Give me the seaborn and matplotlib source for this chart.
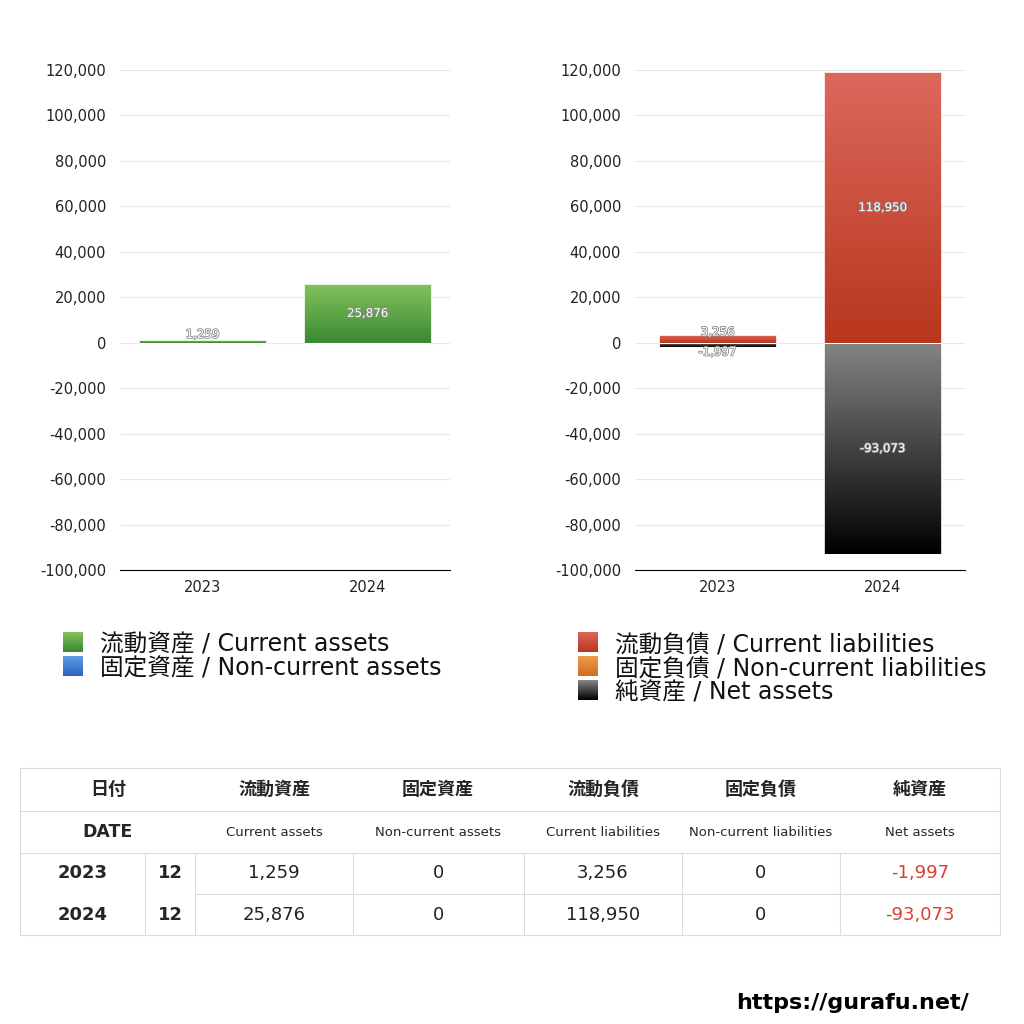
import numpy as np
import pandas as pd
import seaborn as sns
import matplotlib.pyplot as plt
import matplotlib.patheffects as pe
from matplotlib.colors import LinearSegmentedColormap
from matplotlib.ticker import FuncFormatter

years = ["2023", "2024"]
months = [12, 12]
current_assets = [1259, 25876]
noncurrent_assets = [0, 0]
current_liab = [3256, 118950]
noncurrent_liab = [0, 0]
net_assets = [-1997, -93073]

col_jp = ["流動資産", "固定資産", "流動負債", "固定負債", "純資産"]
col_en = ["Current assets", "Non-current assets", "Current liabilities",
          "Non-current liabilities", "Net assets"]

# gradient (top, bottom) per series
grad = {
    "green": ("#84c25c", "#3a8833"),
    "blue": ("#5e9ee9", "#2d62bf"),
    "red": ("#dc685c", "#b8361d"),
    "orange": ("#ee9c4c", "#cf6e1e"),
    "black": ("#858585", "#000000"),
}

sns.set_theme(style="white")
plt.rcParams["font.family"] = ["DejaVu Sans", "Noto Sans CJK JP"]

fig = plt.figure(figsize=(10.24, 10.24), dpi=100)
bg = fig.add_axes([0, 0, 1, 1])
bg.set_xlim(0, 1024)
bg.set_ylim(1024, 0)
bg.axis("off")


def cmap_of(key):
    top, bottom = grad[key]
    return LinearSegmentedColormap.from_list(key, [bottom, top])


def gradient_fill(ax, patches, key):
    g = np.linspace(0, 1, 256).reshape(-1, 1)
    for p in patches:
        x0, y0 = p.get_x(), p.get_y()
        w, h = p.get_width(), p.get_height()
        if h == 0:
            continue
        lo, hi = min(y0, y0 + h), max(y0, y0 + h)
        im = ax.imshow(g, cmap=cmap_of(key), origin="lower", aspect="auto",
                       extent=(x0, x0 + w, lo, hi), zorder=2)
        im.set_clip_path(p)
        p.set_facecolor("none")


def series(ax, vals, key, width):
    n = len(ax.patches)
    sns.barplot(x=years, y=vals, ax=ax, width=width, color=grad[key][1],
                edgecolor="white", linewidth=0.6, zorder=3)
    new = ax.patches[n:]
    gradient_fill(ax, new, key)
    for p, v in zip(new, vals):
        if v == 0:
            continue
        # small bars: nudge the label away from the zero line
        off = 0 if abs(v) > 10000 else (5 if v > 0 else -5)
        ax.annotate(f"{v:,}", (p.get_x() + p.get_width() / 2, p.get_y() + p.get_height() / 2),
                    xytext=(0, off), textcoords="offset points",
                    ha="center", va="center", fontsize=8.5, color="white", zorder=5,
                    path_effects=[pe.withStroke(linewidth=1.2, foreground="#8a8a8a")])


def style(ax):
    ax.set_ylim(-100000, 120000)
    ax.set_xlim(-0.5, 1.5)
    ax.set_yticks(range(-100000, 120001, 20000))
    ax.yaxis.set_major_formatter(FuncFormatter(lambda v, _: f"{int(v):,}"))
    ax.grid(axis="y", color="#e8e8e8", linewidth=0.8, zorder=0)
    ax.set_axisbelow(True)
    for s in ["left", "top", "right"]:
        ax.spines[s].set_visible(False)
    ax.spines["bottom"].set_color("black")
    ax.spines["bottom"].set_linewidth(0.8)
    ax.tick_params(axis="both", length=0, labelsize=10.5, colors="#222222")
    ax.tick_params(axis="y", pad=10)
    ax.tick_params(axis="x", pad=7)
    ax.set_xlabel("")
    ax.set_ylabel("")


axL = fig.add_axes([120 / 1024, 1 - 570 / 1024, 330 / 1024, 500 / 1024])
series(axL, current_assets, "green", 0.77)
series(axL, noncurrent_assets, "blue", 0.77)
style(axL)

axR = fig.add_axes([635 / 1024, 1 - 570 / 1024, 330 / 1024, 500 / 1024])
series(axR, current_liab, "red", 0.71)
series(axR, noncurrent_liab, "orange", 0.71)
series(axR, net_assets, "black", 0.71)
style(axR)

# legends
g = np.linspace(0, 1, 64).reshape(-1, 1)


def legend(x, y0, items):
    for i, (key, label) in enumerate(items):
        y = y0 + i * 24
        bg.imshow(g, cmap=cmap_of(key), origin="lower", aspect="auto",
                  extent=(x, x + 20, y + 20, y))
        bg.text(x + 37, y + 12, label, fontsize=17, va="center", ha="left", color="#111111")


legend(63, 632, [("green", "流動資産 / Current assets"),
                 ("blue", "固定資産 / Non-current assets")])
legend(578, 632, [("red", "流動負債 / Current liabilities"),
                  ("orange", "固定負債 / Non-current liabilities"),
                  ("black", "純資産 / Net assets")])
bg.set_xlim(0, 1024)
bg.set_ylim(1024, 0)

# table
lc = "#dcdcdc"
L, R = 20, 1000
vcols = [145, 195, 353, 524, 682, 840]
for y in [768, 811, 853, 935]:
    bg.plot([L, R], [y, y], color=lc, lw=0.8)
bg.plot([195, R], [894, 894], color=lc, lw=0.8)
for x in [L, R]:
    bg.plot([x, x], [768, 935], color=lc, lw=0.8)
for x in vcols:
    bg.plot([x, x], [853, 935], color=lc, lw=0.8)

centers = [274, 438, 603, 761, 920]
bg.text(108, 790, "日付", ha="center", va="center", fontsize=13, fontweight="bold")
bg.text(108, 832, "DATE", ha="center", va="center", fontsize=12.5, fontweight="bold")
for cx, jp, en in zip(centers, col_jp, col_en):
    bg.text(cx, 790, jp, ha="center", va="center", fontsize=13, fontweight="bold")
    bg.text(cx, 832, en, ha="center", va="center", fontsize=9.5)

table_vals = [current_assets, noncurrent_assets, current_liab, noncurrent_liab, net_assets]
for i, (yr, mo) in enumerate(zip(years, months)):
    y = [873, 915][i]
    bg.text(83, y, yr, ha="center", va="center", fontsize=13, fontweight="bold")
    bg.text(170, y, str(mo), ha="center", va="center", fontsize=13, fontweight="bold")
    for cx, vals in zip(centers, table_vals):
        v = vals[i]
        bg.text(cx, y, f"{v:,}", ha="center", va="center", fontsize=13,
                color="#d9412f" if v < 0 else "#222222")

bg.text(853, 1003, "https://gurafu.net/", ha="center", va="center",
        fontsize=16, fontweight="bold", color="black")

fig.savefig("out.png", dpi=100, facecolor="white")
